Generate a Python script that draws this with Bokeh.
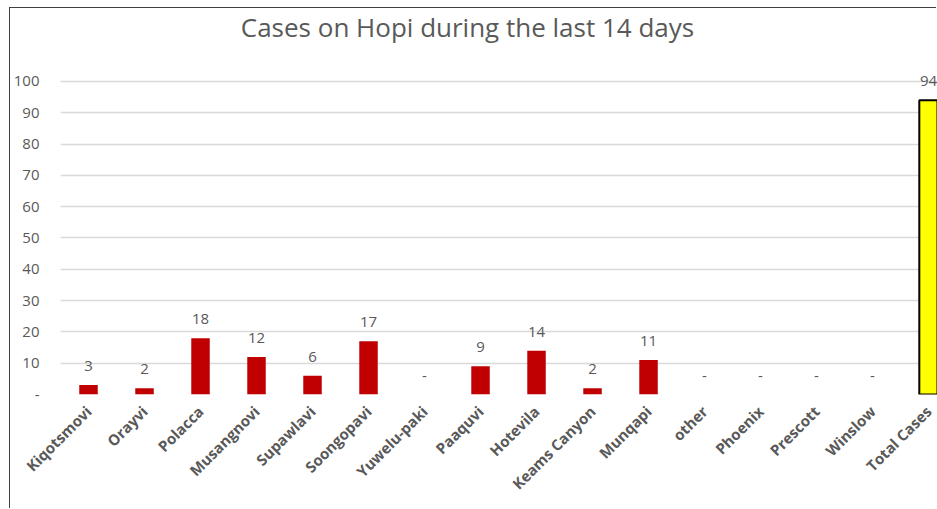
import math
from bokeh.plotting import figure
from bokeh.models import FixedTicker, ColumnDataSource, Label, Range1d
from bokeh.core.properties import value
from bokeh.embed import file_html
from bokeh.resources import INLINE

communities = ["Kiqotsmovi", "Orayvi", "Polacca", "Musangnovi", "Supawlavi",
               "Soongopavi", "Yuwelu-paki", "Paaquvi", "Hotevila", "Keams Canyon",
               "Munqapi", "other", "Phoenix", "Prescott", "Winslow", "Total Cases"]
cases = [3, 2, 18, 12, 6, 17, 0, 9, 14, 2, 11, 0, 0, 0, 0, 94]
y_ticks = [0, 10, 20, 30, 40, 50, 60, 70, 80, 90, 100]
title_text = "Cases on Hopi during the last 14 days"

FONT = "Open Sans"
GRAY = "#595959"

xs = list(range(len(communities)))
is_total = [c == "Total Cases" for c in communities]
src = ColumnDataSource(dict(
    x=xs,
    top=cases,
    label=[str(v) if v != 0 else "-" for v in cases],
    fill=["#FFFF00" if t else "#C00000" for t in is_total],
    line_alpha=[1.0 if t else 0.0 for t in is_total],
))

p = figure(width=927, height=501, output_backend="svg", toolbar_location=None,
           x_range=Range1d(-0.5, 15.16), y_range=Range1d(0, 123.3),
           min_border_left=50, min_border_right=0, min_border_top=0,
           min_border_bottom=115)
p.margin = (8, 0, 0, 10)
p.outline_line_color = None
p.background_fill_color = "white"
p.border_fill_color = "white"
p.styles = {"box-shadow": "-1px -1px 0 0 #404040"}

p.vbar(x="x", top="top", width=0.33, bottom=0, source=src,
       fill_color="fill", line_color="#000000", line_alpha="line_alpha",
       line_width=2)

p.text(x="x", y="top", text="label", source=src, text_align="center",
       text_baseline="bottom", y_offset=-14, text_font=value(FONT),
       text_font_size="15px", text_color=GRAY)

p.add_layout(Label(x=(467 - 88) / 56, y=(394 - 27) / 3.13, text=title_text,
                   text_align="center", text_baseline="middle",
                   text_font=FONT, text_font_size="26px", text_color=GRAY))

# y axis
p.yaxis.ticker = FixedTicker(ticks=y_ticks)
p.yaxis.major_label_overrides = {0: "-"}
p.yaxis.axis_line_color = None
p.yaxis.major_tick_line_color = None
p.yaxis.minor_tick_line_color = None
p.yaxis.major_tick_out = 0
p.yaxis.major_tick_in = 0
p.yaxis.major_label_standoff = 21
p.yaxis.major_label_text_font = FONT
p.yaxis.major_label_text_font_size = "15px"
p.yaxis.major_label_text_color = GRAY

# x axis
p.xaxis.ticker = FixedTicker(ticks=xs)
p.xaxis.major_label_overrides = {i: n for i, n in enumerate(communities)}
p.xaxis.major_label_orientation = math.pi / 4
p.xaxis.axis_line_color = None
p.xaxis.major_tick_line_color = None
p.xaxis.minor_tick_line_color = None
p.xaxis.major_tick_out = 0
p.xaxis.major_tick_in = 0
p.xaxis.major_label_standoff = 14
p.xaxis.major_label_text_font = FONT
p.xaxis.major_label_text_font_style = "bold"
p.xaxis.major_label_text_font_size = "15px"
p.xaxis.major_label_text_color = GRAY

p.xgrid.grid_line_color = None
p.ygrid.grid_line_color = "#D9D9D9"
p.ygrid.grid_line_width = 1.5

open("out.html", "w").write(file_html(p, INLINE))
